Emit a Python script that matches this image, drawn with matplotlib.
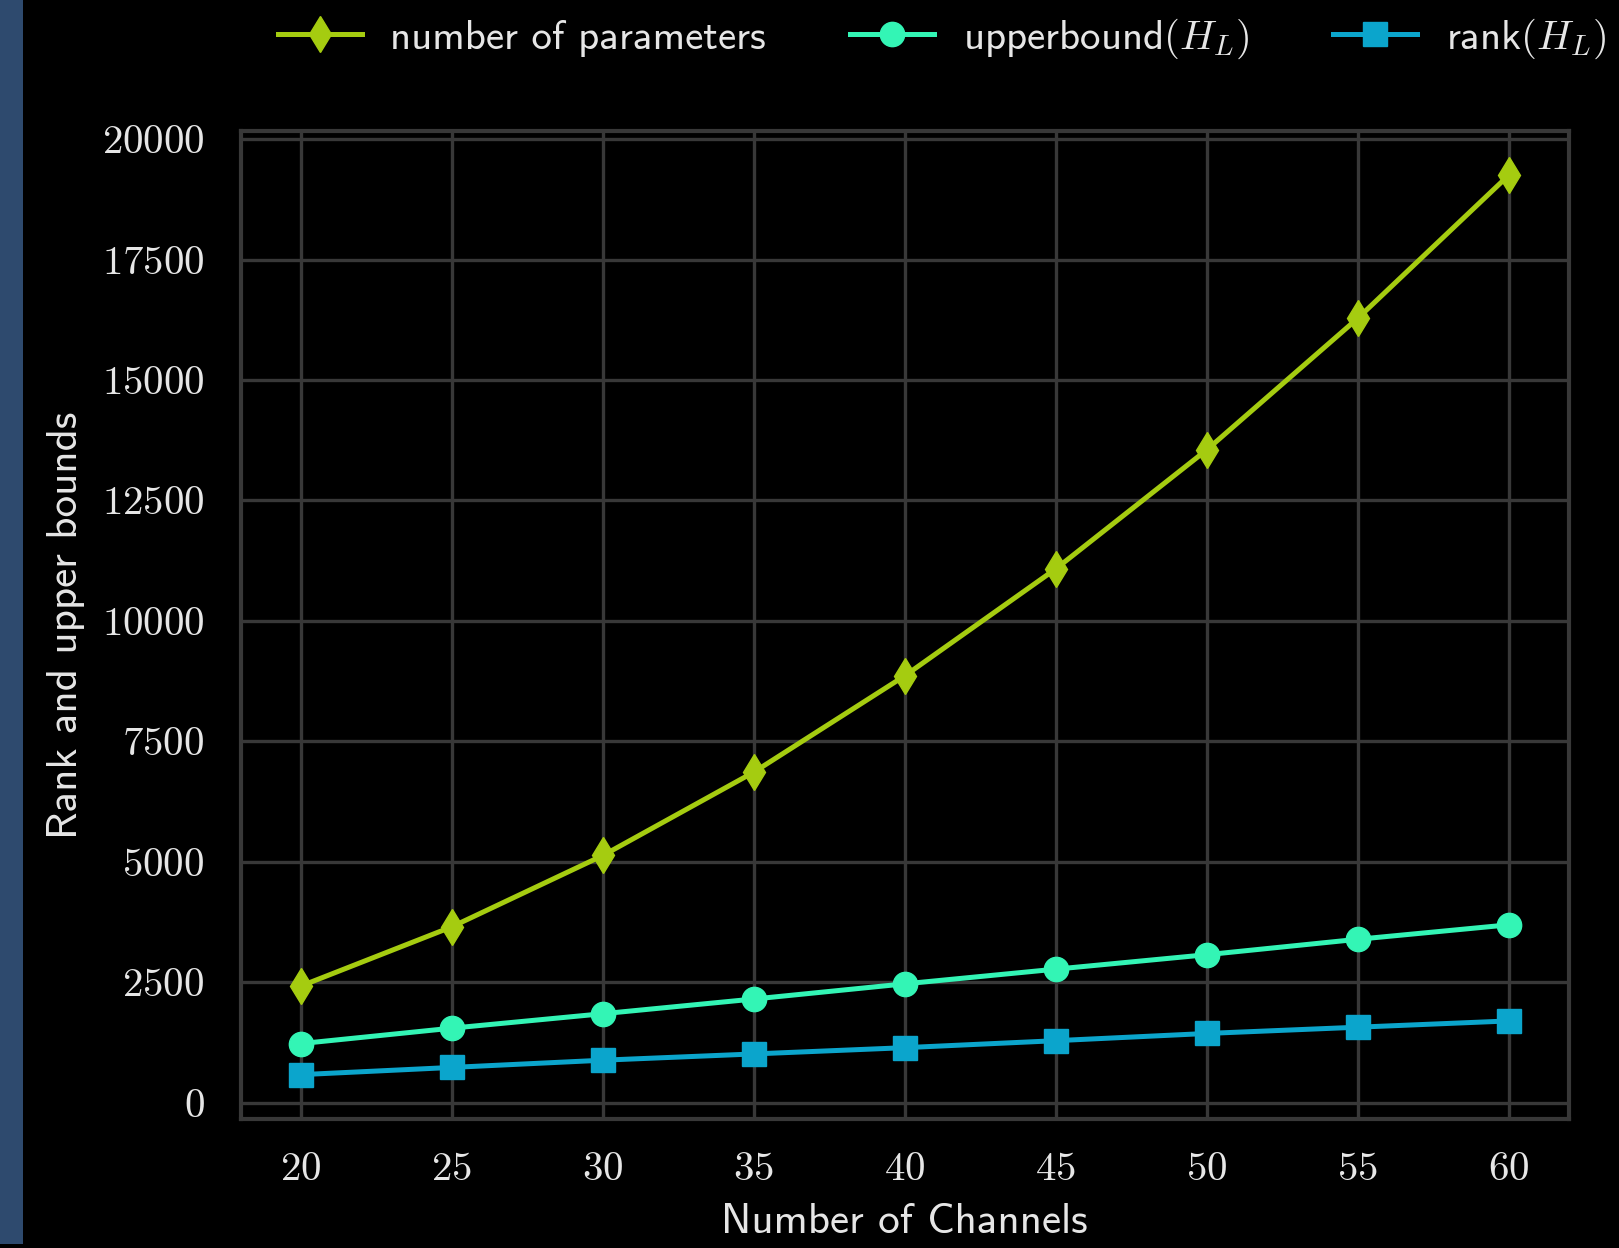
import numpy as np
import matplotlib
matplotlib.use("Agg")
import matplotlib.pyplot as plt
from matplotlib.patches import Rectangle

plt.rcParams['mathtext.fontset'] = 'cm'
plt.rcParams['axes.formatter.use_mathtext'] = True

channels = [20, 25, 30, 35, 40, 45, 50, 55, 60]
n_params = [2420, 3650, 5130, 6860, 8860, 11080, 13550, 16280, 19250]
upper_bound = [1225, 1545, 1845, 2150, 2465, 2770, 3070, 3390, 3690]
rank_hl = [580, 730, 880, 1010, 1140, 1285, 1435, 1565, 1695]

yticks = [0, 2500, 5000, 7500, 10000, 12500, 15000, 17500, 20000]

txt_col = '#e6e6e6'
grid_col = '#383838'

fig = plt.figure(figsize=(16.19, 12.48), dpi=100, facecolor='black')
ax = fig.add_axes([0.1486, 0.1034, 0.8205, 0.7916], facecolor='black')

# strip on the left edge
fig.patches.append(Rectangle((0, 0.003), 0.0142, 0.997, transform=fig.transFigure,
                             facecolor='#2e4a6e', edgecolor='none', zorder=0))

ax.plot(channels, n_params, '-d', color='#a5cc10', lw=3.6, ms=18, label='number of parameters')
ax.plot(channels, upper_bound, '-o', color='#33f5b5', lw=3.6, ms=17.5, label='upperbound$(H_L)$')
ax.plot(channels, rank_hl, '-s', color='#0ba5cc', lw=3.6, ms=17, label='rank$(H_L)$')

ax.set_xlim(18, 62)
ax.set_ylim(-340, 20170)
ax.set_xticks(channels)
ax.set_yticks(yticks)
ax.grid(True, color=grid_col, lw=2.4)
ax.set_axisbelow(True)
for s in ax.spines.values():
    s.set_color(grid_col)
    s.set_linewidth(3)

ax.tick_params(length=0, labelsize=29.5, labelcolor=txt_col)
ax.tick_params(axis='y', pad=26)
ax.tick_params(axis='x', pad=24)
for lab in ax.get_xticklabels() + ax.get_yticklabels():
    lab.set_fontfamily('cmr10')

ax.set_xlabel('Number of Channels', fontfamily='cmss10', fontsize=31, color=txt_col, labelpad=11)
ax.set_ylabel('Rank and upper bounds', fontfamily='cmss10', fontsize=31, color=txt_col, labelpad=12)

leg = fig.legend(loc='center', bbox_to_anchor=(0.582, 0.969), ncol=3, frameon=False,
                 prop={'family': 'cmss10', 'size': 29.5}, handlelength=2.05,
                 columnspacing=2.05, handletextpad=0.7)
for t in leg.get_texts():
    t.set_color(txt_col)

fig.savefig('out.png', dpi=100, facecolor='black')
